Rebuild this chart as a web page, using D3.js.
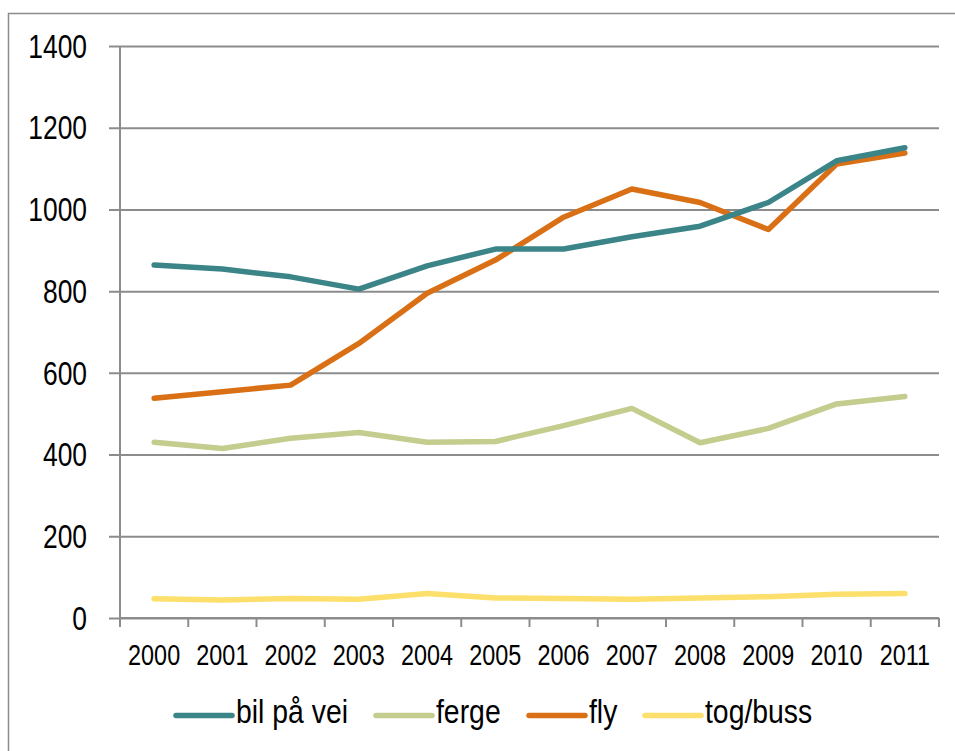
<!DOCTYPE html>
<html lang="no">
<head>
<meta charset="utf-8">
<script src="https://d3js.org/d3.v7.min.js"></script>
<style>
  body { margin: 0; background: #fff; }
  svg { display: block; font-family: "Liberation Sans", Arial, sans-serif; }
</style>
</head>
<body>
<script>
// data
var years = ["2000","2001","2002","2003","2004","2005","2006","2007","2008","2009","2010","2011"];
var bil   = [864, 854, 835, 805, 862, 903, 903, 933, 959, 1017, 1119, 1151];
var ferge = [430, 415, 440, 454, 430, 432, 471, 513, 429, 464, 524, 542];
var fly   = [538, 554, 570, 672, 795, 876, 981, 1050, 1017, 951, 1111, 1138];
var tog   = [47, 44, 48, 46, 60, 49, 48, 46, 49, 52, 58, 60];
var yTicks = [0, 200, 400, 600, 800, 1000, 1200, 1400];

var series = [
  {name: "bil på vei", values: bil,   color: "#3b8488"},
  {name: "ferge",      values: ferge, color: "#c4cc8e"},
  {name: "fly",        values: fly,   color: "#d97016"},
  {name: "tog/buss",   values: tog,   color: "#fddf6b"}
];

var w = 955, h = 751;
var plotL = 120, plotR = 939, plotT = 46, plotB = 618;
var grey = "#8c8c8c";

var svg = d3.select("body").append("svg")
    .attr("width", w)
    .attr("height", h);

// outer frame
svg.append("rect")
    .attr("x", 8.5).attr("y", 13.5)
    .attr("width", 970).attr("height", 770)
    .attr("fill", "none")
    .attr("stroke", grey)
    .attr("stroke-width", 1.5);

var x = d3.scaleBand().domain(years).range([plotL, plotR]);
var y = d3.scaleLinear().domain([0, 1400]).range([plotB, plotT]);

// gridlines + y axis
var yAxis = d3.axisLeft(y)
    .tickValues(yTicks)
    .tickSize(-(plotR - plotL))
    .tickFormat(d3.format("d"));

var ySx = 0.8;
var gy = svg.append("g")
    .attr("transform", "translate(" + plotL + ",0)")
    .call(yAxis);
gy.select(".domain").remove();
gy.selectAll(".tick line")
    .attr("x1", -11)
    .attr("stroke", grey)
    .attr("stroke-width", 2);
gy.selectAll(".tick text")
    .attr("font-size", 33)
    .attr("fill", "#000")
    .attr("x", -(plotL - 87) / ySx)
    .attr("dy", "0.34em")
    .attr("transform", "scale(" + ySx + ",1)");

svg.append("line")
    .attr("x1", plotL).attr("x2", plotL)
    .attr("y1", plotT).attr("y2", plotB)
    .attr("stroke", grey).attr("stroke-width", 2);

// x axis, ticks at band edges
var xSx = 0.78;
var gx = svg.append("g")
    .attr("transform", "translate(0," + plotB + ")");
gx.append("line")
    .attr("x1", plotL).attr("x2", plotR)
    .attr("stroke", grey).attr("stroke-width", 2);
gx.selectAll(".edge")
    .data(years.concat(["end"]))
    .enter().append("line")
    .attr("class", "edge")
    .attr("x1", function(d, i) { return plotL + i * x.bandwidth(); })
    .attr("x2", function(d, i) { return plotL + i * x.bandwidth(); })
    .attr("y1", 0).attr("y2", 9)
    .attr("stroke", grey).attr("stroke-width", 2);
gx.selectAll(".lbl")
    .data(years)
    .enter().append("text")
    .attr("class", "lbl")
    .attr("x", function(d) { return (x(d) + x.bandwidth() / 2) / xSx; })
    .attr("y", 47)
    .attr("transform", "scale(" + xSx + ",1)")
    .attr("text-anchor", "middle")
    .attr("font-size", 30)
    .text(function(d) { return d; });

// lines
var line = d3.line()
    .x(function(d, i) { return x(years[i]) + x.bandwidth() / 2; })
    .y(function(d) { return y(d); });

[series[3], series[1], series[2], series[0]].forEach(function(s) {
  svg.append("path")
      .datum(s.values)
      .attr("d", line)
      .attr("fill", "none")
      .attr("stroke", s.color)
      .attr("stroke-width", 5.5)
      .attr("stroke-linejoin", "round")
      .attr("stroke-linecap", "round");
});

// legend
var legX = [176, 376, 529, 645];
var lSx = 0.86;
var lg = svg.append("g");
series.forEach(function(s, i) {
  lg.append("line")
      .attr("x1", legX[i]).attr("x2", legX[i] + 56)
      .attr("y1", 715.5).attr("y2", 715.5)
      .attr("stroke", s.color)
      .attr("stroke-width", 5.5)
      .attr("stroke-linecap", "round");
  lg.append("text")
      .attr("x", (legX[i] + 60) / lSx)
      .attr("y", 723.5)
      .attr("transform", "scale(" + lSx + ",1)")
      .attr("font-size", 33)
      .text(s.name);
});
</script>
</body>
</html>
